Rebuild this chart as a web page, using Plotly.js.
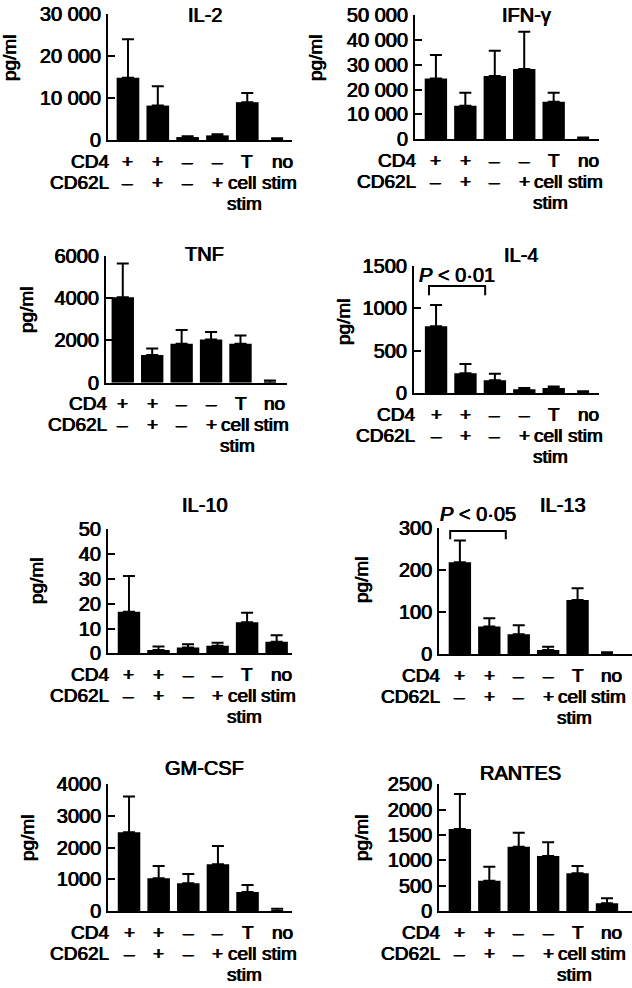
<!DOCTYPE html>
<html>
<head>
<meta charset="utf-8">
<script src="https://cdn.plot.ly/plotly-3.0.1.min.js"></script>
<style>
  html, body { margin: 0; padding: 0; background: #fff; }
  #chart { width: 632px; height: 988px; }
</style>
</head>
<body>
<div id="chart"></div>
<script>
// ---------------- DATA ----------------
const groups = ["CD4+ CD62L-", "CD4+ CD62L+", "CD4- CD62L-", "CD4- CD62L+", "T cell stim", "no stim"];
const cd4Labels   = ["+", "+", "\u2013", "\u2013", "T", "no"];
const cd62lLabels = ["\u2013", "+", "\u2013", "+", "cell", "stim"];
const row3Labels  = ["", "", "", "", "stim", ""];
const rowNames = ["CD4", "CD62L"];

const cytokines = ["IL-2", "IFN-\u03b3", "TNF", "IL-4", "IL-10", "IL-13", "GM-CSF", "RANTES"];

const il2Mean = [14800, 8200, 700, 1100, 9000, 0];
const il2Err  = [9200, 4600, 200, 250, 2200, 400];
const il2Ticks = [0, 10000, 20000, 30000];
const il2TickText = ["0", "10 000", "20 000", "30 000"];

const ifnMean = [24500, 13500, 25500, 28300, 15100, 0];
const ifnErr  = [9400, 5200, 10100, 15000, 3600, 700];
const ifnTicks = [0, 10000, 20000, 30000, 40000, 50000];
const ifnTickText = ["0", "10 000", "20 000", "30 000", "40 000", "50 000"];

const tnfMean = [4050, 1310, 1840, 2040, 1840, 0];
const tnfErr  = [1600, 310, 660, 360, 400, 100];
const tnfTicks = [0, 2000, 4000, 6000];
const tnfTickText = ["0", "2000", "4000", "6000"];

const il4Mean = [790, 235, 154, 49, 61, 0];
const il4Err  = [250, 110, 77, 12, 20, 25];
const il4Ticks = [0, 500, 1000, 1500];
const il4TickText = ["0", "500", "1000", "1500"];

const il10Mean = [16.8, 1.3, 2.3, 3.0, 12.5, 4.7];
const il10Err  = [14.4, 1.4, 1.3, 1.3, 3.9, 2.6];
const il10Ticks = [0, 10, 20, 30, 40, 50];
const il10TickText = ["0", "10", "20", "30", "40", "50"];

const il13Mean = [219, 66, 48, 10, 129, 0];
const il13Err  = [52, 20, 21, 8, 28, 5];
const il13Ticks = [0, 100, 200, 300];
const il13TickText = ["0", "100", "200", "300"];

const gmMean = [2485, 1032, 874, 1474, 600, 0];
const gmErr  = [1127, 389, 295, 579, 221, 70];
const gmTicks = [0, 1000, 2000, 3000, 4000];
const gmTickText = ["0", "1000", "2000", "3000", "4000"];

const rantesMean = [1618, 599, 1270, 1086, 743, 151];
const rantesErr  = [691, 276, 276, 269, 145, 99];
const rantesTicks = [0, 500, 1000, 1500, 2000, 2500];
const rantesTickText = ["0", "500", "1000", "1500", "2000", "2500"];

const pLabels = ["<i>P</i> &lt; 0\u00b701", "<i>P</i> &lt; 0\u00b705"];

// ---------------- LAYOUT (pixel geometry) ----------------
const W = 632, H = 988;
const px = x => x / W;
const py = y => 1 - y / H;

const FONT = "Liberation Sans, Arial, Helvetica, sans-serif";
const SH = "0.45px 0 0 #000, -0.45px 0 0 #000";
const fnt = (s) => ({ family: FONT, size: s, color: "#000", shadow: SH });

const panels = [
  { mean: il2Mean, err: il2Err, tv: il2Ticks, tt: il2TickText, L: 108, R: 292, T: 14, B: 140, xr: [-0.67, 5.5], title: [205, 15], yt: [10, 58] },
  { mean: ifnMean, err: ifnErr, tv: ifnTicks, tt: ifnTickText, L: 415, R: 599, T: 15, B: 139.3, xr: [-0.71, 5.54], title: [526, 15], yt: [316, 58] },
  { mean: tnfMean, err: tnfErr, tv: tnfTicks, tt: tnfTickText, L: 106, R: 287, T: 256, B: 382.7, xr: [-0.57, 5.58], title: [204, 254], yt: [26, 310] },
  { mean: il4Mean, err: il4Err, tv: il4Ticks, tt: il4TickText, L: 414, R: 599, T: 266, B: 393.3, xr: [-0.75, 5.54], title: [521, 255], yt: [343, 322],
    p: { text: pLabels[0], x: 417, y: 275, br: [-0.24, 1.67, 1263, 1154] } },
  { mean: il10Mean, err: il10Err, tv: il10Ticks, tt: il10TickText, L: 108, R: 291.7, T: 529.3, B: 653.3, xr: [-0.71, 5.51], title: [205, 505], yt: [36, 581] },
  { mean: il13Mean, err: il13Err, tv: il13Ticks, tt: il13TickText, L: 439.3, R: 632, T: 528.3, B: 654.3, xr: [-0.70, 5.85], title: [562.7, 505], yt: [361, 580],
    p: { text: pLabels[1], x: 437.7, y: 514, br: [-0.33, 1.56, 293.7, 273.8] } },
  { mean: gmMean, err: gmErr, tv: gmTicks, tt: gmTickText, L: 108.3, R: 291.7, T: 784.3, B: 911, xr: [-0.70, 5.49], title: [204, 767.7], yt: [27, 838] },
  { mean: rantesMean, err: rantesErr, tv: rantesTicks, tt: rantesTickText, L: 439.3, R: 632, T: 784.3, B: 911, xr: [-0.70, 5.85], title: [520, 772.7], yt: [361, 838] }
];

const traces = [];
const layout = {
  width: W, height: H,
  margin: { l: 0, r: 0, t: 0, b: 0 },
  paper_bgcolor: "#fff", plot_bgcolor: "rgba(0,0,0,0)",
  showlegend: false,
  bargap: 0.24,
  font: fnt(19),
  annotations: [],
  shapes: []
};

const ROW_DY = [21, 42, 63];
// fine horizontal nudges of individual category labels [row,col]
const NUDGE = { "0,5": 5, "1,4": -5, "1,5": 2, "2,4": -3 };

panels.forEach((p, i) => {
  const n = i + 1;
  const xa = "x" + n, ya = "y" + n;
  const xk = n === 1 ? "xaxis" : "xaxis" + n;
  const yk = n === 1 ? "yaxis" : "yaxis" + n;

  traces.push({
    type: "bar",
    x: groups,
    y: p.mean,
    xaxis: xa, yaxis: ya,
    marker: { color: "#000", line: { width: 0 } },
    error_y: { type: "data", symmetric: false, array: p.err, arrayminus: p.err.map(() => 0), color: "#000", thickness: 2, width: 6 },
    cliponaxis: false,
    hoverinfo: "skip"
  });

  layout[xk] = {
    domain: [px(p.L), px(p.R)],
    anchor: ya,
    type: "category",
    range: p.xr,
    showline: true, linecolor: "#000", linewidth: 2,
    ticks: "", showticklabels: false, showgrid: false, zeroline: false,
    fixedrange: true
  };
  layout[yk] = {
    domain: [py(p.B), py(p.T)],
    anchor: xa,
    range: [0, p.tv[p.tv.length - 1]],
    tickmode: "array", tickvals: p.tv, ticktext: p.tt,
    showline: true, linecolor: "#000", linewidth: 2,
    ticks: "inside", ticklen: 7, tickwidth: 2, tickcolor: "#000",
    ticklabelstandoff: 1,
    tickfont: fnt(20),
    showgrid: false, zeroline: false,
    fixedrange: true
  };

  // cytokine title
  layout.annotations.push({
    xref: "paper", yref: "paper", x: px(p.title[0]), y: py(p.title[1]),
    xanchor: "center", yanchor: "middle", showarrow: false,
    text: cytokines[i], font: fnt(20)
  });
  // y axis title
  layout.annotations.push({
    xref: "paper", yref: "paper", x: px(p.yt[0]), y: py(p.yt[1]),
    xanchor: "center", yanchor: "middle", showarrow: false, textangle: -90,
    text: "pg/ml", font: fnt(19)
  });
  // row names
  rowNames.forEach((rn, r) => {
    layout.annotations.push({
      xref: xa + " domain", yref: ya + " domain", x: 0, y: 0,
      xanchor: "right", yanchor: "middle", xshift: 3, yshift: -ROW_DY[r],
      showarrow: false, text: rn, font: fnt(19)
    });
  });
  // category labels
  [cd4Labels, cd62lLabels, row3Labels].forEach((row, r) => {
    row.forEach((lab, k) => {
      if (!lab) return;
      layout.annotations.push({
        xref: xa, yref: ya + " domain", x: k, y: 0,
        xanchor: "center", yanchor: "middle", yshift: -ROW_DY[r],
        xshift: NUDGE[r + "," + k] || 0,
        showarrow: false, text: lab, font: fnt(19)
      });
    });
  });
  // significance bracket
  if (p.p) {
    layout.annotations.push({
      xref: "paper", yref: "paper", x: px(p.p.x), y: py(p.p.y),
      xanchor: "left", yanchor: "middle", showarrow: false,
      text: p.p.text, font: fnt(20)
    });
    const [a, b, top, leg] = p.p.br;
    layout.shapes.push({
      type: "path", xref: xa, yref: ya,
      path: `M ${a},${leg} L ${a},${top} L ${b},${top} L ${b},${leg}`,
      line: { color: "#000", width: 2 }
    });
  }
});

Plotly.newPlot("chart", traces, layout, { displayModeBar: false, staticPlot: true });
</script>
</body>
</html>
